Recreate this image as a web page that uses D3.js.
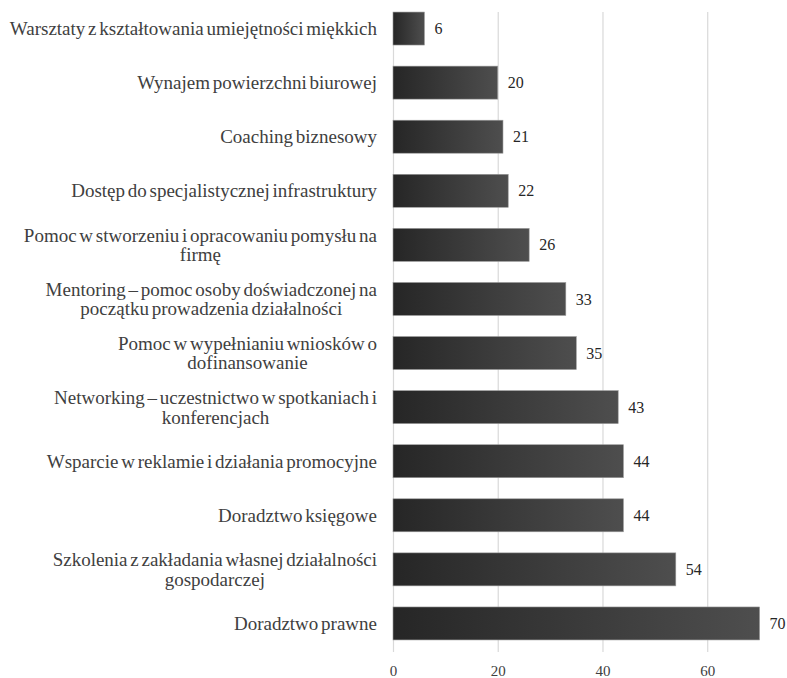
<!DOCTYPE html>
<html>
<head>
<meta charset="utf-8">
<script src="https://cdn.jsdelivr.net/npm/d3@7"></script>
<style>
  html, body { margin: 0; padding: 0; background: #fff; }
  svg { display: block; }
</style>
</head>
<body>
<svg id="chart" width="787" height="678"></svg>
<script>
const categories = [
  "Warsztaty z kształtowania umiejętności miękkich",
  "Wynajem powierzchni biurowej",
  "Coaching biznesowy",
  "Dostęp do specjalistycznej infrastruktury",
  "Pomoc w stworzeniu i opracowaniu pomysłu na\nfirmę",
  "Mentoring – pomoc osoby doświadczonej na\npoczątku prowadzenia działalności",
  "Pomoc w wypełnianiu wniosków o\ndofinansowanie",
  "Networking – uczestnictwo w spotkaniach i\nkonferencjach",
  "Wsparcie w reklamie i działania promocyjne",
  "Doradztwo księgowe",
  "Szkolenia z zakładania własnej działalności\ngospodarczej",
  "Doradztwo prawne"
];
const values = [6, 20, 21, 22, 26, 33, 35, 43, 44, 44, 54, 70];
const xTicks = [0, 20, 40, 60];

const svg = d3.select("#chart");
const x0 = 393, pxPerUnit = 5.237;
const x = d3.scaleLinear().domain([0, 80]).range([x0, x0 + 80 * pxPerUnit]);
const y = d3.scaleBand().domain(categories).range([1.5, 650.5]).paddingInner(0.39).paddingOuter(0.195);

const defs = svg.append("defs");
const grad = defs.append("linearGradient").attr("id", "barGrad")
  .attr("x1", "0%").attr("x2", "100%").attr("y1", "0%").attr("y2", "0%");
grad.append("stop").attr("offset", "0%").attr("stop-color", "#262626");
grad.append("stop").attr("offset", "100%").attr("stop-color", "#4e4e4e");

const gridTop = y(categories[0]);
const axisY = 652;

const xAxis = svg.append("g").attr("transform", `translate(0,${axisY})`)
  .call(d3.axisBottom(x).tickValues(xTicks).tickFormat(d3.format("d"))
    .tickSizeInner(-(axisY - gridTop)).tickSizeOuter(0).tickPadding(13));
xAxis.select(".domain").remove();
xAxis.selectAll(".tick line").attr("stroke", "#d9d9d9").attr("stroke-width", 1.2);
xAxis.selectAll(".tick text").attr("font-family", "'Liberation Serif', 'Times New Roman', serif")
  .attr("font-size", 15).attr("fill", "#404040");

svg.append("g").selectAll("rect").data(values).join("rect")
  .attr("x", x(0))
  .attr("y", (d, i) => y(categories[i]))
  .attr("width", d => x(d) - x(0))
  .attr("height", y.bandwidth())
  .attr("fill", "url(#barGrad)")
  .attr("stroke", "#9a9a9a").attr("stroke-width", 0.6);

svg.append("g").selectAll("text").data(values).join("text")
  .attr("x", d => x(d) + 10)
  .attr("y", (d, i) => y(categories[i]) + y.bandwidth() / 2)
  .attr("dy", "0.35em")
  .attr("font-family", "'Liberation Serif', 'Times New Roman', serif")
  .attr("font-size", 16).attr("fill", "#262626")
  .text(d => d);

const labelRight = 377;
const lineH = 19.5;
const lg = svg.append("g")
  .attr("font-family", "'Liberation Serif', 'Times New Roman', serif")
  .attr("font-size", 19).attr("fill", "#404040")
  .style("word-spacing", "-2px");
categories.forEach((c, i) => {
  const lines = c.split("\n");
  const cy = y(c) + y.bandwidth() / 2;
  const t = lg.append("text");
  lines.forEach((l, j) => {
    t.append("tspan").attr("y", cy - (lines.length - 1) * lineH / 2 + j * lineH).attr("dy", "0.35em").text(l);
  });
  const spans = t.selectAll("tspan").nodes();
  const widths = spans.map(s => s.getComputedTextLength());
  const w = d3.max(widths);
  const center = labelRight - w / 2;
  t.attr("text-anchor", "middle");
  spans.forEach(s => d3.select(s).attr("x", center));
});
</script>
</body>
</html>
